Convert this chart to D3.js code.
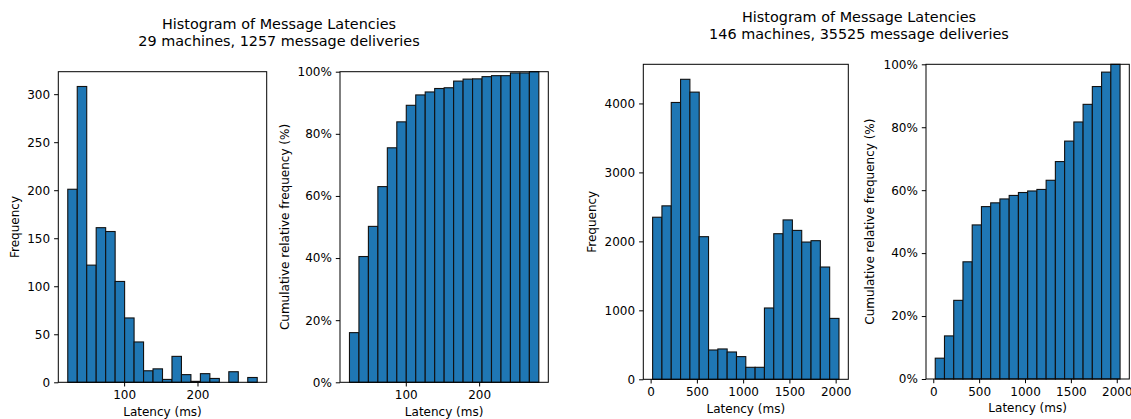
<!DOCTYPE html>
<html>
<head>
<meta charset="utf-8">
<script src="https://cdn.jsdelivr.net/npm/d3@7"></script>
<style>
  html, body { margin: 0; padding: 0; background: #fff; }
  svg { display: block; font-family: "DejaVu Sans", sans-serif; }
  .tick text { font-size: 12px; fill: #000; }
  .tick line, .domain { stroke: #000; }
</style>
</head>
<body>
<svg id="chart" width="1131" height="419"></svg>
<script>
// histogram counts, 20 equal bins each
const countsSmall = [201, 308, 122, 161, 157, 105, 67, 42, 12, 14, 3, 27, 8, 1, 9, 4, 0, 11, 0, 5];
const rangeSmall = [23.2, 281.4];
const countsLarge = [2350, 2515, 4014, 4350, 4164, 2068, 425, 440, 396, 329, 174, 174, 1034, 2111, 2311, 2159, 1990, 2010, 1628, 883];
const rangeLarge = [21.5, 2036];

const titleLines = ["Histogram of Message Latencies"];
const subtitleSmall = "29 machines, 1257 message deliveries";
const subtitleLarge = "146 machines, 35525 message deliveries";

const ticksSmallX = [100, 200];
const ticksSmallY = [0, 50, 100, 150, 200, 250, 300];
const ticksLargeX = [0, 500, 1000, 1500, 2000];
const ticksLargeY = [0, 1000, 2000, 3000, 4000];
const ticksPct = [0, 0.2, 0.4, 0.6, 0.8, 1.0];

const svg = d3.select("#chart");

function makeBins(counts, [lo, hi]) {
  const w = (hi - lo) / counts.length;
  return counts.map((c, i) => ({ x0: lo + i * w, x1: lo + (i + 1) * w, v: c }));
}

function cumulative(counts) {
  const cs = Array.from(d3.cumsum(counts));
  const total = cs[cs.length - 1];
  return cs.map((c) => c / total);
}

function drawPanel(p) {
  const g = svg.append("g").attr("transform", `translate(${p.left},${p.top})`);
  const [lo, hi] = p.range;
  const pad = (hi - lo) * 0.05;
  const x = d3.scaleLinear().domain([lo - pad, hi + pad]).range([0, p.width]);
  const y = d3.scaleLinear().domain(p.yDomain).range([p.height, 0]);

  g.append("g")
    .selectAll("rect")
    .data(p.bins)
    .join("rect")
    .attr("x", (d) => x(d.x0))
    .attr("width", (d) => x(d.x1) - x(d.x0))
    .attr("y", (d) => y(d.v))
    .attr("height", (d) => y(0) - y(d.v))
    .attr("fill", "#1f77b4")
    .attr("stroke", "#111")
    .attr("stroke-width", 1.1);

  const xAxis = g.append("g")
    .attr("transform", `translate(0,${p.height})`)
    .call(d3.axisBottom(x).tickValues(p.xTicks).tickSize(4.2).tickPadding(4).tickFormat(d3.format("d")));
  const yAxis = g.append("g")
    .call(d3.axisLeft(y).tickValues(p.yTicks).tickSize(4.2).tickPadding(4).tickFormat(p.yFormat));
  [xAxis, yAxis].forEach((a) => {
    a.attr("font-family", null).attr("font-size", null);
    a.select(".domain").remove();
  });

  // frame
  g.append("rect")
    .attr("width", p.width).attr("height", p.height)
    .attr("fill", "none").attr("stroke", "#000").attr("stroke-width", 1);

  g.append("text")
    .attr("x", p.width / 2).attr("y", p.height + 33.5)
    .attr("text-anchor", "middle").attr("font-size", 12)
    .text("Latency (ms)");

  g.append("text")
    .attr("transform", `translate(${p.ylabelX - p.left},${p.height / 2}) rotate(-90)`)
    .attr("text-anchor", "middle").attr("dominant-baseline", "central").attr("font-size", 12)
    .text(p.ylabel);
}

function drawTitle(cx, y, sub) {
  const t = svg.append("text").attr("text-anchor", "middle").attr("font-size", 14.4);
  t.append("tspan").attr("x", cx).attr("y", y).text(titleLines[0]);
  t.append("tspan").attr("x", cx).attr("y", y + 17).text(sub);
}

const pctFmt = (d) => d3.format(".0%")(d);
const intFmt = d3.format("d");

const smallMax = d3.max(countsSmall) * 1.05;
const largeMax = d3.max(countsLarge) * 1.05;

drawPanel({
  left: 58.3, top: 71.7, width: 208.4, height: 310.6,
  range: rangeSmall, bins: makeBins(countsSmall, rangeSmall),
  yDomain: [0, smallMax], xTicks: ticksSmallX, yTicks: ticksSmallY, yFormat: intFmt,
  ylabel: "Frequency", ylabelX: 15
});
drawPanel({
  left: 340, top: 71.7, width: 208.3, height: 310.6,
  range: rangeSmall, bins: makeBins(cumulative(countsSmall), rangeSmall),
  yDomain: [0, 1], xTicks: ticksSmallX, yTicks: ticksPct, yFormat: pctFmt,
  ylabel: "Cumulative relative frequency (%)", ylabelX: 285
});
drawPanel({
  left: 643.3, top: 64.3, width: 205, height: 315,
  range: rangeLarge, bins: makeBins(countsLarge, rangeLarge),
  yDomain: [0, largeMax], xTicks: ticksLargeX, yTicks: ticksLargeY, yFormat: intFmt,
  ylabel: "Frequency", ylabelX: 592.3
});
drawPanel({
  left: 926, top: 64.3, width: 203.3, height: 314.7,
  range: rangeLarge, bins: makeBins(cumulative(countsLarge), rangeLarge),
  yDomain: [0, 1], xTicks: ticksLargeX, yTicks: ticksPct, yFormat: pctFmt,
  ylabel: "Cumulative relative frequency (%)", ylabelX: 870
});

drawTitle(279, 28.5, subtitleSmall);
drawTitle(859, 21.5, subtitleLarge);
</script>
</body>
</html>
